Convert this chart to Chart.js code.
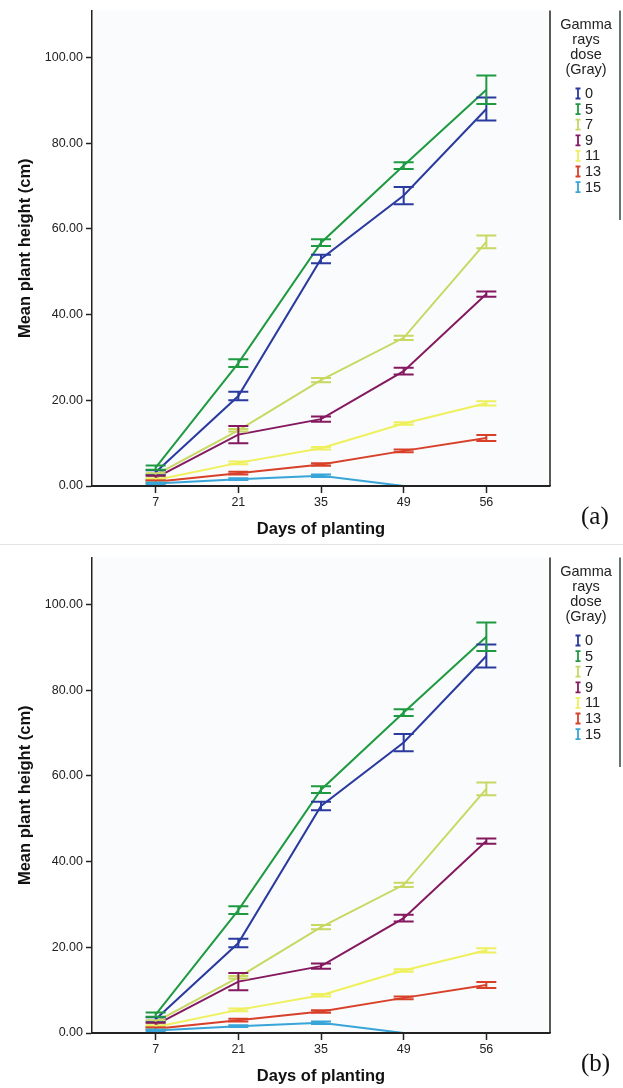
<!DOCTYPE html>
<html><head><meta charset="utf-8">
<script src="https://cdn.jsdelivr.net/npm/chart.js@4/dist/chart.umd.min.js"></script>
<style>
html,body{margin:0;padding:0;background:#fff;}
body{width:623px;height:1088px;position:relative;overflow:hidden;}
.panel{position:absolute;left:0;width:623px;height:541px;}
#pa{top:0;}
#pb{top:547px;}
.tag{position:absolute;left:581px;font-family:"Liberation Serif","Times New Roman",serif;font-size:25px;line-height:25px;color:#111;}
#sep{position:absolute;left:0;top:544px;width:623px;height:1px;background:#e4e4e4;}
</style></head><body>
<div class="panel" id="pa"><canvas id="ca" width="623" height="541"></canvas></div>
<div id="sep"></div>
<div class="panel" id="pb"><canvas id="cb" width="623" height="541"></canvas></div>
<div class="tag" style="top:503px">(a)</div>
<div class="tag" style="top:1050px">(b)</div>
<script>
// ---- data ----
const days = ['7', '21', '35', '49', '56'];
const doses = ['0', '5', '7', '9', '11', '13', '15'];
const yTicks = [0, 20, 40, 60, 80, 100];
const legendTitle = ['Gamma', 'rays', 'dose', '(Gray)'];
const xTitle = 'Days of planting';
const yTitle = 'Mean plant height (cm)';

const mean0  = [3.2, 21.0, 53.0, 67.8, 88.0];
const mean5  = [4.3, 28.7, 56.8, 74.8, 92.5];
const mean7  = [2.6, 13.0, 24.7, 34.6, 57.0];
const mean9  = [1.9, 12.0, 15.6, 26.8, 44.8];
const mean11 = [1.4, 5.4, 8.8, 14.6, 19.3];
const mean13 = [1.0, 3.0, 5.0, 8.2, 11.2];
const mean15 = [0.6, 1.6, 2.4, 0.0, 0.0];

const err0  = [0.5, 1.0, 1.0, 2.0, 2.7];
const err5  = [0.5, 0.9, 0.8, 0.8, 3.3];
const err7  = [0.4, 0.3, 0.5, 0.5, 1.5];
const err9  = [0.5, 2.0, 0.6, 0.8, 0.6];
const err11 = [0.3, 0.3, 0.3, 0.3, 0.5];
const err13 = [0.3, 0.3, 0.3, 0.3, 0.7];
const err15 = [0.2, 0.2, 0.3, 0.0, 0.0];

const means = [mean0, mean5, mean7, mean9, mean11, mean13, mean15];
const errs = [err0, err5, err7, err9, err11, err13, err15];
const colors = ['#2a3a9e', '#1f9a40', '#c8d862', '#85195f', '#eef05c', '#d8402a', '#38a4d8'];

const FONT = '"Liberation Sans", Arial, sans-serif';

const errorBars = {
  id: 'errorBars',
  afterDatasetsDraw(chart) {
    const {ctx, scales: {x, y}} = chart;
    chart.data.datasets.forEach((ds, k) => {
      const e = errs[k];
      ctx.save();
      ctx.strokeStyle = ds.borderColor;
      ctx.lineWidth = 2;
      ds.data.forEach((p, i) => {
        if (!e[i]) return;
        const px = x.getPixelForValue(p.x);
        const yt = y.getPixelForValue(p.y + e[i]);
        const yb = y.getPixelForValue(p.y - e[i]);
        ctx.beginPath();
        ctx.moveTo(px, yt); ctx.lineTo(px, yb);
        ctx.moveTo(px - 10, yt); ctx.lineTo(px + 10, yt);
        ctx.moveTo(px - 10, yb); ctx.lineTo(px + 10, yb);
        ctx.stroke();
      });
      ctx.restore();
    });
  }
};

const frame = {
  id: 'frame',
  beforeDraw(chart) {
    const {ctx, chartArea: a} = chart;
    ctx.save();
    ctx.fillStyle = '#f9fbfd';
    ctx.fillRect(a.left, a.top, a.right - a.left, a.bottom - a.top);
    ctx.restore();
  },
  afterDraw(chart) {
    const {ctx, chartArea: a} = chart;
    ctx.save();
    ctx.strokeStyle = '#222';
    ctx.lineWidth = 2;
    ctx.beginPath();
    ctx.moveTo(a.left, a.bottom); ctx.lineTo(a.right, a.bottom);
    ctx.stroke();
    ctx.lineWidth = 1.5;
    ctx.beginPath();
    ctx.moveTo(a.right, a.top); ctx.lineTo(a.right, a.bottom);
    ctx.stroke();
    ctx.strokeStyle = '#2e4a3a';
    ctx.beginPath();
    ctx.moveTo(620, a.top); ctx.lineTo(620, 220);
    ctx.stroke();
    // legend
    const cx = 586;
    ctx.fillStyle = '#222';
    ctx.font = '14.5px ' + FONT;
    ctx.textAlign = 'center';
    ctx.textBaseline = 'middle';
    legendTitle.forEach((t, i) => ctx.fillText(t, cx, a.top + 14 + i * 15.3));
    ctx.textAlign = 'left';
    chart.data.datasets.forEach((ds, k) => {
      const yy = a.top + 83 + k * 15.6;
      ctx.strokeStyle = ds.borderColor;
      ctx.lineWidth = 1.8;
      ctx.beginPath();
      ctx.moveTo(578, yy - 5); ctx.lineTo(578, yy + 5);
      ctx.moveTo(575.5, yy - 5); ctx.lineTo(580.5, yy - 5);
      ctx.moveTo(575.5, yy + 5); ctx.lineTo(580.5, yy + 5);
      ctx.stroke();
      ctx.fillStyle = '#222';
      ctx.fillText(ds.label, 585, yy + 0.5);
    });
    ctx.restore();
  }
};

function makeChart(id) {
  return new Chart(document.getElementById(id), {
    type: 'line',
    data: {
      datasets: doses.map((d, k) => ({
        label: d,
        data: means[k].map((v, i) => ({x: i, y: v})),
        borderColor: colors[k],
        backgroundColor: colors[k],
        borderWidth: 2,
        pointRadius: 0,
        tension: 0,
        fill: false
      }))
    },
    options: {
      responsive: false,
      animation: false,
      layout: {padding: {left: 0, right: 73, top: 9, bottom: 0}},
      plugins: {legend: {display: false}, tooltip: {enabled: false}},
      scales: {
        x: {
          type: 'linear', min: -0.77, max: 4.77,
          afterBuildTicks: s => { s.ticks = days.map((d, i) => ({value: i})); },
          afterFit: s => { s.height = 541 - 486; },
          grid: {drawOnChartArea: false, tickLength: 7, color: '#222', tickWidth: 1.5},
          border: {color: '#222', width: 1.5},
          ticks: {callback: v => days[v], font: {family: FONT, size: 12.5}, color: '#222', padding: 2, maxRotation: 0, autoSkip: false},
          title: {display: true, text: xTitle, font: {family: FONT, size: 16.5, weight: 'bold'}, color: '#111', padding: {top: 0, bottom: 2}}
        },
        y: {
          min: 0, max: 111,
          afterBuildTicks: s => { s.ticks = yTicks.map(v => ({value: v})); },
          afterFit: s => { s.width = 92; },
          grid: {drawOnChartArea: false, tickLength: 6, color: '#222', tickWidth: 1.5},
          border: {color: '#222', width: 1.5},
          ticks: {callback: v => Number(v).toFixed(2), font: {family: FONT, size: 12.5}, color: '#222', padding: 3},
          title: {display: true, text: yTitle, font: {family: FONT, size: 16.5, weight: 'bold'}, color: '#111', padding: {top: 16, bottom: 0}}
        }
      }
    },
    plugins: [frame, errorBars]
  });
}
makeChart('ca');
makeChart('cb');
</script>
</body></html>
